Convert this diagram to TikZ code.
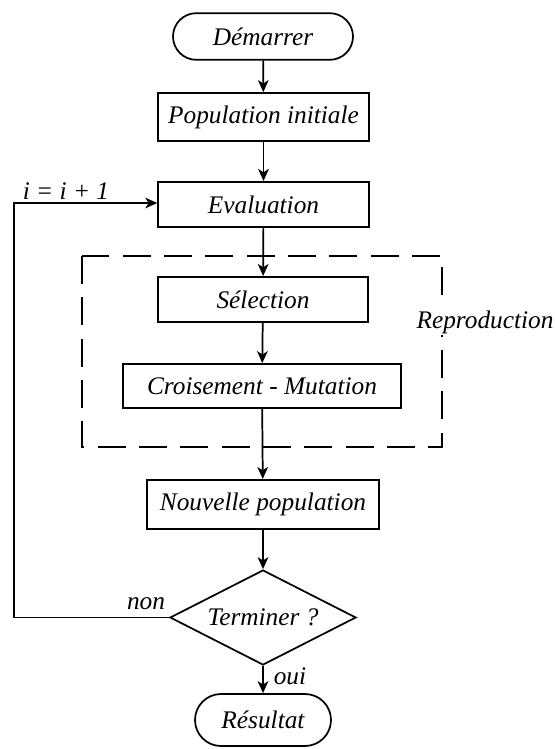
\documentclass[tikz,border=0pt]{standalone}
\usepackage{fontspec}
\setmainfont{Liberation Serif}
\usetikzlibrary{shapes.geometric,shapes.misc,arrows.meta}
\begin{document}
\begin{tikzpicture}[x=0.75pt,y=-0.75pt,
  every node/.style={font=\fontsize{19}{21}\selectfont\itshape},
  line/.style={line width=1.3pt},
  flow/.style={line, -{Stealth[length=9pt,width=8pt,inset=2.5pt]}},
  box/.style={draw, line, rectangle, inner sep=0pt},
  terminal/.style={draw, line, rounded rectangle, inner sep=0pt},
  decision/.style={draw, line, diamond, shape aspect=1.96, inner sep=0pt},
  tag/.style={inner sep=1pt}]
  \useasboundingbox (0,0) rectangle (554,749);

  % main chain of steps
  \node[terminal, minimum width=135pt, minimum height=35pt] (start) at (263,36.5) {Démarrer};
  \node[box, minimum width=158pt, minimum height=36pt] (init) at (263.5,117) {Population initiale};
  \node[box, minimum width=158pt, minimum height=34pt] (eval) at (263.5,204.5) {Evaluation};
  \node[box, minimum width=157.5pt, minimum height=34pt] (sel) at (263,299.5) {Sélection};
  \node[box, minimum width=208.5pt, minimum height=33pt] (cross) at (262,386) {Croisement - Mutation};
  \node[box, minimum width=174pt, minimum height=37pt] (newpop) at (263,504.5) {Nouvelle population};
  \node[decision, minimum width=139.5pt, minimum height=71.25pt] (stop) at (263,617.5) {Terminer ?};
  \node[terminal, minimum width=102pt, minimum height=39pt] (result) at (263,720) {Résultat};

  % reproduction group
  \draw[line, dash pattern=on 21pt off 10pt] (82,256) rectangle (442,447);
  \node[tag, fill=white] (repro) at (485,322) {Reproduction};

  % connectors
  \draw[flow] (start) -- (init);
  \draw[flow] (init) -- (eval);
  \draw[flow] (eval) -- (sel);
  \draw[flow] (sel) -- (cross);
  \draw[flow] (cross) -- (newpop);
  \draw[flow] (newpop) -- (stop);
  \draw[flow] (stop) -- (result);

  % loop back for the next generation
  \coordinate (loopbot) at (14,617.5);
  \coordinate (looptop) at (14,203);
  \draw[flow] (stop.west) -- (loopbot) -- (looptop) -- (looptop -| eval.west);

  % labels
  \node[tag] (inc) at (66,191) {i = i + 1};
  \node[tag] (no) at (146,604) {non};
  \node[tag] (yes) at (290,676) {oui};
\end{tikzpicture}
\end{document}
